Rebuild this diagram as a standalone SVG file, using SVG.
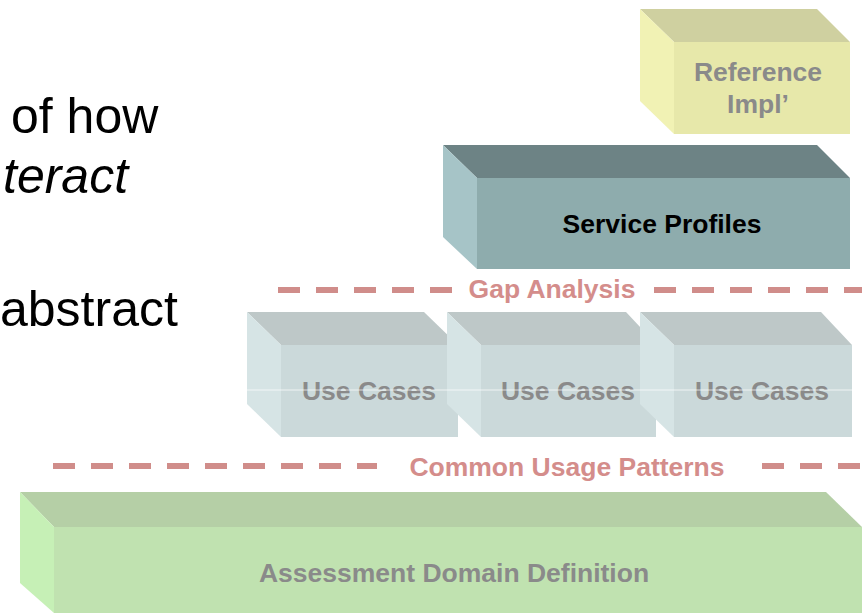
<svg xmlns="http://www.w3.org/2000/svg" width="862" height="613" viewBox="0 0 862 613">
<style>
.lbl{font-family:"Liberation Sans",Arial,sans-serif;font-weight:bold;font-size:26.5px;text-anchor:middle}
.gray{fill:#8a8a8a}
.salmon{fill:#d48d8b}
.body{font-family:"Liberation Sans",Arial,sans-serif;font-size:50px;fill:#000}
.dash{stroke:#d08d8a;stroke-width:6;stroke-dasharray:22 16;fill:none}
</style>
<rect width="862" height="613" fill="#fff"/>
<g id="bodytext">
<text class="body" x="11" y="133">of how</text>
<text class="body" x="3" y="193" font-style="italic">teract</text>
<text class="body" x="0" y="326">abstract</text>
</g>
<g id="connectors">
<line class="dash" x1="278" y1="290" x2="452" y2="290"/>
<line class="dash" x1="654" y1="290" x2="862" y2="290"/>
<line class="dash" x1="53" y1="466" x2="377" y2="466"/>
<line class="dash" x1="762" y1="466" x2="862" y2="466"/>
</g>
<g id="reference-impl">
<polygon points="640,9 817,9 850,42 674,42" fill="#cfd0a0"/>
<polygon points="640,9 674,42 674,134 640,101" fill="#f1f2b4"/>
<rect x="674" y="42" width="176" height="92" fill="#e7e8aa"/>
<text class="lbl gray" x="758" y="81">Reference</text>
<text class="lbl gray" x="758" y="113">Impl’</text>
</g>
<g id="service-profiles">
<polygon points="443,145 817,145 850,178 477,178" fill="#6d8385"/>
<polygon points="443,145 477,178 477,269 443,237" fill="#a6c4c7"/>
<rect x="477" y="178" width="373" height="91" fill="#8eacad"/>
<text class="lbl" x="662" y="233" fill="#000">Service Profiles</text>
</g>
<text class="lbl salmon" x="552" y="298">Gap Analysis</text>
<g id="use-cases-1">
<polygon points="247,312 424,312 458,345 281,345" fill="#bec8c8"/>
<polygon points="247,312 281,345 281,437 247,404" fill="#d6e4e5"/>
<rect x="281" y="345" width="177" height="92" fill="#cbd9da"/>
<text class="lbl gray" x="369" y="400">Use Cases</text>
</g>
<g id="use-cases-2">
<polygon points="447,312 626,312 657,345 481,345" fill="#bec8c8"/>
<polygon points="447,312 481,345 481,437 447,404" fill="#d6e4e5"/>
<rect x="481" y="345" width="175" height="92" fill="#cbd9da"/>
<text class="lbl gray" x="568" y="400">Use Cases</text>
</g>
<g id="use-cases-3">
<polygon points="640,312 821,312 852,345 674,345" fill="#bec8c8"/>
<polygon points="640,312 674,345 674,437 640,404" fill="#d6e4e5"/>
<rect x="674" y="345" width="178" height="92" fill="#cbd9da"/>
<text class="lbl gray" x="762" y="400">Use Cases</text>
</g>
<line x1="247" y1="390" x2="852" y2="390" stroke="#ffffff" stroke-width="1" opacity="0.7"/>
<text class="lbl salmon" x="567" y="476">Common Usage Patterns</text>
<g id="assessment-domain">
<polygon points="20,492 826,492 862,527 54,527" fill="#b5cfa6"/>
<polygon points="20,492 54,527 54,613 20,583" fill="#c6f0b6"/>
<rect x="54" y="527" width="808" height="86" fill="#c0e2b0"/>
<text class="lbl gray" x="454" y="582">Assessment Domain Definition</text>
</g>
</svg>
